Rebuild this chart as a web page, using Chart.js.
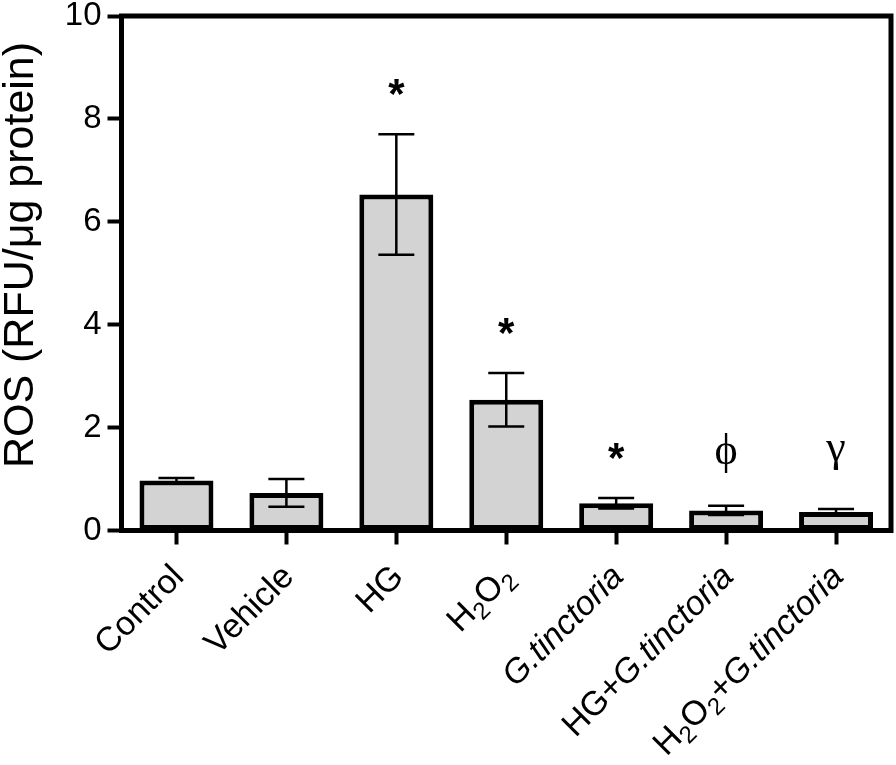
<!DOCTYPE html>
<html><head><meta charset="utf-8">
<script src="https://cdn.jsdelivr.net/npm/chart.js@4.4.0/dist/chart.umd.min.js"></script>
<style>html,body{margin:0;padding:0;background:#fff}#wrap{width:896px;height:765px;position:relative}canvas{display:block}</style>
</head><body><div id="wrap"><canvas id="c" width="896" height="765"></canvas></div>
<script>
// ---- data ----
const categories = ['Control', 'Vehicle', 'HG', 'H₂O₂', 'G.tinctoria', 'HG+G.tinctoria', 'H₂O₂+G.tinctoria'];
const italicTerm = 'G.tinctoria';
const rosMean = [0.97, 0.73, 6.53, 2.54, 0.53, 0.39, 0.36];
const rosSEM  = [0.05, 0.27, 1.17, 0.52, 0.10, 0.09, 0.06];
const yTicks = [0, 2, 4, 6, 8, 10];
const significance = ['', '', '*', '*', '*', 'ϕ', 'γ'];
const yTitle = 'ROS (RFU/μg protein)';

// ---- styles ----
const SANS = '"Liberation Sans", Arial, Helvetica, sans-serif';
const SERIF = '"Liberation Serif", "Times New Roman", serif';
const markStyle = {
  '*': { font: 'bold 42px ' + SANS, gap: 47 },
  'ϕ': { font: '44px ' + SERIF, gap: 53 },
  'γ': { font: '44px ' + SERIF, gap: 53 }
};

function parseLabel(str) {
  const segs = [];
  const pieces = str.split(italicTerm);
  pieces.forEach((p, i) => {
    const sub = p.split('₂');
    sub.forEach((s, j) => {
      if (s) segs.push({ text: s, italic: false, sub: false });
      if (j < sub.length - 1) segs.push({ text: '2', italic: false, sub: true });
    });
    if (i < pieces.length - 1) segs.push({ text: italicTerm, italic: true, sub: false });
  });
  return segs;
}

const overlay = {
  id: 'overlay',
  afterDatasetsDraw(chart) {
    const ctx = chart.ctx;
    const xs = chart.scales.x, ys = chart.scales.y;
    const a = chart.chartArea;
    ctx.save();
    // frame top & right
    ctx.strokeStyle = '#000';
    ctx.lineWidth = 5;
    ctx.lineCap = 'butt';
    ctx.beginPath();
    ctx.moveTo(a.left - 2.5, a.top);
    ctx.lineTo(a.right, a.top);
    ctx.lineTo(a.right, a.bottom + 2.5);
    ctx.stroke();

    // error bars
    ctx.lineWidth = 2.5;
    rosMean.forEach((m, i) => {
      const x = xs.getPixelForValue(i);
      const yt = ys.getPixelForValue(m + rosSEM[i]);
      const yb = ys.getPixelForValue(m - rosSEM[i]);
      ctx.beginPath();
      ctx.moveTo(x, yt); ctx.lineTo(x, yb);
      ctx.moveTo(x - 18, yt); ctx.lineTo(x + 18, yt);
      ctx.moveTo(x - 18, yb); ctx.lineTo(x + 18, yb);
      ctx.stroke();
    });

    // significance marks
    ctx.fillStyle = '#000';
    ctx.textAlign = 'center';
    ctx.textBaseline = 'alphabetic';
    significance.forEach((s, i) => {
      if (!s) return;
      const st = markStyle[s];
      ctx.font = st.font;
      const mt = ctx.measureText(s);
      const x = xs.getPixelForValue(i);
      const yc = ys.getPixelForValue(rosMean[i] + rosSEM[i]) - st.gap;
      const base = yc + (mt.actualBoundingBoxAscent - mt.actualBoundingBoxDescent) / 2;
      ctx.fillText(s, x, base);
    });

    // x labels (rotated 45deg, rich text)
    const fN = '34px ' + SANS, fI = 'italic 34px ' + SANS, fS = '24px ' + SANS;
    ctx.textAlign = 'left';
    categories.forEach((lab, i) => {
      const segs = parseLabel(lab);
      let total = 0;
      segs.forEach(sg => {
        ctx.font = sg.sub ? fS : (sg.italic ? fI : fN);
        sg.w = ctx.measureText(sg.text).width;
        total += sg.w;
      });
      const bx = xs.getPixelForValue(i) + 9;
      const by = a.bottom + 48;
      ctx.save();
      ctx.translate(bx, by);
      ctx.rotate(-Math.PI / 4);
      let x = -total;
      segs.forEach(sg => {
        ctx.font = sg.sub ? fS : (sg.italic ? fI : fN);
        ctx.fillText(sg.text, x, sg.sub ? 7 : 0);
        x += sg.w;
      });
      ctx.restore();
    });

    // y title
    ctx.save();
    ctx.font = '43px ' + SANS;
    ctx.textAlign = 'center';
    ctx.textBaseline = 'alphabetic';
    ctx.translate(33, 255);
    ctx.rotate(-Math.PI / 2);
    ctx.fillText(yTitle, 0, 0);
    ctx.restore();

    ctx.restore();
  }
};

new Chart(document.getElementById('c'), {
  type: 'bar',
  data: {
    labels: categories,
    datasets: [{
      data: rosMean,
      backgroundColor: '#d3d3d3',
      borderColor: '#000',
      borderWidth: 5,
      borderSkipped: false,
      barPercentage: 0.673,
      categoryPercentage: 1
    }]
  },
  options: {
    responsive: false,
    animation: false,
    devicePixelRatio: 1,
    layout: { padding: { top: 16, right: 5, left: 0, bottom: 0 } },
    plugins: { legend: { display: false }, tooltip: { enabled: false }, title: { display: false } },
    scales: {
      x: {
        type: 'category',
        offset: true,
        grid: { offset: false, drawOnChartArea: false, drawTicks: true, tickLength: 14, tickWidth: 4, color: '#000' },
        border: { display: true, color: '#000', width: 5 },
        ticks: { display: false },
        afterFit(s) { s.height = 234.5; }
      },
      y: {
        min: 0, max: 10,
        afterBuildTicks(s) { s.ticks = yTicks.map(v => ({ value: v })); },
        grid: { drawOnChartArea: false, drawTicks: true, tickLength: 14, tickWidth: 4, color: '#000' },
        border: { display: true, color: '#000', width: 5 },
        ticks: { color: '#000', padding: 6, font: { family: SANS, size: 33, lineHeight: 0.8 } },
        afterFit(s) { s.width = 121.5; s.paddingTop = 0; s.paddingBottom = 0; }
      }
    }
  },
  plugins: [overlay]
});
</script>
</body></html>
